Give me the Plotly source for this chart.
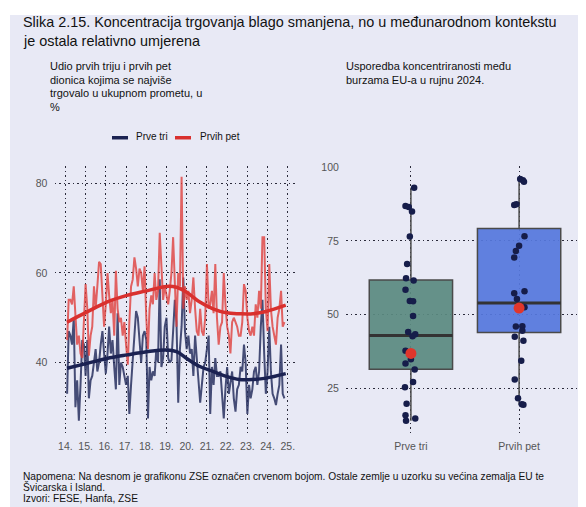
import plotly.graph_objects as go
import pandas as pd

# ---------------- DATA ----------------
# Left panel: monthly share of top 3 / top 5 stocks in total turnover (%), Feb 2014 onward
prve_tri = [33, 47, 46, 44, 50, 30, 36, 27, 35, 45, 44, 37, 45, 32, 36, 37, 40, 43, 38, 40,
            44, 47, 42, 37.5, 42, 48, 42, 45, 39, 34, 51, 35, 40, 39, 37, 35, 37, 28.5, 35, 40,
            45, 51.5, 50, 44, 40, 46, 47, 45, 27.5, 39, 36, 38, 37, 43, 40, 58.6, 39, 41, 48, 50,
            41, 40, 40.5, 47, 54, 49, 31, 43, 48, 59, 47, 43, 46, 42, 43, 37, 46, 41, 35, 31,
            35, 39, 40, 43, 46, 28.5, 39, 35, 41, 37, 37, 38, 32, 27.5, 34, 39, 33, 35, 38, 32,
            29, 34, 35, 39, 38, 44, 40, 28.5, 35, 32, 34, 38, 39, 35, 38, 48, 54, 42, 33, 38,
            48, 38, 33, 32, 30.5, 33, 35, 44, 33, 32]
prvih_pet = [45, 54, 54, 53, 57, 50, 44, 46, 42, 41, 50, 57.5, 52, 41.5, 46, 48, 57, 52, 57, 62.5,
             62, 55, 48, 53, 60, 55, 51, 54, 46, 60.5, 52, 49, 50, 46, 49, 44, 39.5, 49, 57, 58.5,
             63.5, 61, 57, 61, 60, 56, 61.5, 50, 43, 52, 55, 53, 60, 54, 56, 69, 60, 54, 57, 55,
             53, 56, 60, 68, 57, 48, 60, 57, 81.5, 52, 57, 54, 56, 51, 54, 59, 52, 47, 46, 52,
             47, 46, 50, 62, 52, 53, 56, 51, 62, 50, 44, 48, 49, 60, 53, 48, 46, 42, 49, 50,
             49, 48, 46, 46, 49, 57.5, 56, 50, 47, 46, 48, 46, 53, 50, 56, 52, 68, 68, 52, 47,
             62, 52, 48, 46, 44, 50, 52, 56, 48, 49]
series_start = "2014-02-01"

# Smoothed trends (decimal year knots)
trend_years = [2014.08, 2015.07, 2016.05, 2017.04, 2018.02, 2019.0, 2019.5, 2020.0,
               2020.65, 2021.3, 2021.96, 2022.6, 2023.28, 2023.93, 2024.9]
trend_prve_tri = [38.7, 39.8, 40.9, 41.7, 42.4, 42.8, 42.4, 40.9, 39.1, 38.0, 36.9, 36.2, 36.2, 36.5, 37.5]
trend_prvih_pet = [49.0, 51.3, 53.5, 55.0, 56.0, 57.0, 56.8, 55.7, 53.5, 52.0, 51.1, 50.9, 50.9, 51.4, 52.8]

tick_years = list(range(2014, 2026))
tick_labels = [f"{y % 100}." for y in tick_years]

# Right panel: EU exchanges, September 2024
categories = ["Prve tri", "Prvih pet"]
box_q1 = [31.4, 43.9]
box_median = [42.9, 53.9]
box_q3 = [61.7, 79.2]
box_low = [13.9, 19.4]
box_high = [93.1, 96.0]
pts_prve_tri = [93.1, 86.9, 86.5, 85.0, 76.5, 67.2, 62.3, 61.6, 58.4, 54.6, 54.5, 49.5, 44.1,
                43.3, 42.6, 37.7, 34.8, 33.4, 31.3, 27.1, 25.3, 19.7, 15.8, 14.7, 13.9]
jit_prve_tri = [0.03, -0.05, -0.02, 0.01, -0.01, -0.035, -0.045, 0.025, -0.05, -0.01, 0.02,
                0.02, -0.025, 0.04, 0.015, -0.05, 0.0, -0.05, 0.035, 0.02, -0.055, -0.04, -0.05, 0.04, -0.045]
pts_prvih_pet = [96.0, 95.6, 95.1, 87.2, 87.5, 76.6, 73.4, 71.6, 69.4, 57.9, 57.2, 55.3, 52.5,
                 46.0, 45.9, 44.5, 42.5, 41.1, 34.3, 27.9, 21.6, 19.5, 19.4]
jit_prvih_pet = [0.01, 0.035, 0.045, -0.045, -0.025, 0.05, 0.0, -0.03, -0.045, 0.05, -0.045,
                 -0.02, 0.05, 0.03, -0.03, 0.03, -0.04, 0.04, 0.02, -0.04, -0.01, 0.025, 0.04]
zse_values = [36.8, 52.2]

# ---------------- FIGURE ----------------
OFF = 8                     # browser body margin (figure starts at 8,8 in the page)
W, H = 586 - OFF, 507 - OFF
BG = "#e8e9f5"
NAVY = "#1b2252"
RED = "#d9302e"
FONT = "Liberation Sans, Arial, sans-serif"


def px_x(p):
    return (p - OFF) / W


def px_y(p):
    return 1 - (p - OFF) / H


def dec_to_date(d):
    y = int(d)
    return pd.Timestamp(y, 1, 1) + pd.Timedelta(days=(d - y) * 365.25)


dates = pd.date_range(series_start, periods=len(prve_tri), freq="MS")
trend_dates = [dec_to_date(d) for d in trend_years]

fig = go.Figure()

# Left panel
fig.add_trace(go.Scatter(x=dates, y=prve_tri, mode="lines", line=dict(color="rgba(40,48,95,0.85)", width=2),
                         showlegend=False, xaxis="x", yaxis="y"))
fig.add_trace(go.Scatter(x=dates, y=prvih_pet, mode="lines", line=dict(color="rgba(222,62,60,0.8)", width=2),
                         showlegend=False, xaxis="x", yaxis="y"))
fig.add_trace(go.Scatter(x=trend_dates, y=trend_prve_tri, mode="lines", line=dict(color=NAVY, width=3.5, shape="spline"),
                         showlegend=False, xaxis="x", yaxis="y"))
fig.add_trace(go.Scatter(x=trend_dates, y=trend_prvih_pet, mode="lines", line=dict(color=RED, width=3.5, shape="spline"),
                         showlegend=False, xaxis="x", yaxis="y"))

# Right panel
box_fills = ["rgba(90,138,128,0.93)", "rgba(85,119,221,0.93)"]
box_w = 0.77
for i, cat in enumerate(categories):
    fig.add_trace(go.Box(x=[i], q1=[box_q1[i]], median=[box_median[i]], q3=[box_q3[i]],
                         lowerfence=[box_low[i]], upperfence=[box_high[i]], width=box_w,
                         whiskerwidth=0, fillcolor=box_fills[i], line=dict(color="#4a4a4a", width=1.5),
                         boxpoints=False, showlegend=False, hoverinfo="skip", xaxis="x2", yaxis="y2"))
    fig.add_trace(go.Scatter(x=[i - box_w / 2, i + box_w / 2], y=[box_median[i]] * 2, mode="lines",
                             line=dict(color="#333333", width=3), showlegend=False, xaxis="x2", yaxis="y2"))

for i, (vals, jit) in enumerate([(pts_prve_tri, jit_prve_tri), (pts_prvih_pet, jit_prvih_pet)]):
    fig.add_trace(go.Scatter(x=[i + j for j in jit], y=vals, mode="markers",
                             marker=dict(color="#161d4a", size=6.5), showlegend=False, xaxis="x2", yaxis="y2"))
fig.add_trace(go.Scatter(x=[0, 1], y=zse_values, mode="markers", marker=dict(color="#e0362c", size=11),
                         showlegend=False, xaxis="x2", yaxis="y2"))

GRID = dict(showgrid=True, gridcolor="#2a2a3a", gridwidth=1.3, griddash="1.5px,3px", zeroline=False,
            showline=False, ticks="outside", ticklen=4, tickcolor="rgba(0,0,0,0)",
            tickfont=dict(family=FONT, size=10.5, color="#555555"))

fig.update_layout(
    width=W, height=H,
    margin=dict(l=0, r=0, t=0, b=0),
    paper_bgcolor="white", plot_bgcolor="rgba(0,0,0,0)",
    font=dict(family=FONT),
    xaxis=dict(domain=[px_x(54.5), px_x(295.5)], type="date",
               range=[dec_to_date(2013.46), dec_to_date(2025.38)],
               tickvals=[pd.Timestamp(y, 1, 1) for y in tick_years], ticktext=tick_labels, **GRID),
    yaxis=dict(domain=[px_y(432), px_y(163)], range=[24.3, 83.8], tickvals=[40, 60, 80], **GRID),
    xaxis2=dict(domain=[px_x(346), px_x(584)], range=[-0.6, 1.6], tickvals=[0, 1], ticktext=categories,
                anchor="y2", **GRID),
    yaxis2=dict(domain=[px_y(432), px_y(163)], range=[9.85, 100.3], tickvals=[25, 50, 75, 100],
                anchor="x2", **GRID),
)

# background panel
fig.add_shape(type="rect", xref="paper", yref="paper", x0=px_x(10), x1=1, y0=0, y1=px_y(10),
              fillcolor=BG, line=dict(width=0), layer="below")


def text(x, y, s, size, color="#111111", anchor="left"):
    fig.add_annotation(xref="paper", yref="paper", x=px_x(x), y=px_y(y), text=s, showarrow=False,
                       xanchor=anchor, yanchor="middle", font=dict(family=FONT, size=size, color=color))


text(21, 17, "Slika 2.15. Koncentracija trgovanja blago smanjena, no u međunarodnom kontekstu", 14.4)
text(21, 36, "je ostala relativno umjerena", 14.4)

for k, line in enumerate(["Udio prvih triju i prvih pet", "dionica kojima se najviše",
                          "trgovalo u ukupnom prometu, u", "%"]):
    text(48, 62 + 13.5 * k, line, 11)
for k, line in enumerate(["Usporedba koncentriranosti među", "burzama EU-a u rujnu 2024."]):
    text(344, 62 + 13.5 * k, line, 11)

# legend
fig.add_shape(type="line", xref="paper", yref="paper", x0=px_x(112), x1=px_x(128), y0=px_y(134), y1=px_y(134),
              line=dict(color=NAVY, width=3.5))
text(134, 133, "Prve tri", 10)
fig.add_shape(type="line", xref="paper", yref="paper", x0=px_x(175), x1=px_x(191), y0=px_y(134), y1=px_y(134),
              line=dict(color=RED, width=3.5))
text(198, 133, "Prvih pet", 10)

# footer
text(21, 476, "Napomena: Na desnom je grafikonu ZSE označen crvenom bojom. Ostale zemlje u uzorku su većina zemalja EU te", 10.2)
text(21, 487, "Švicarska i Island.", 10.2)
text(21, 498, "Izvori: FESE, Hanfa, ZSE", 10.2)

fig.write_html("out.html")
